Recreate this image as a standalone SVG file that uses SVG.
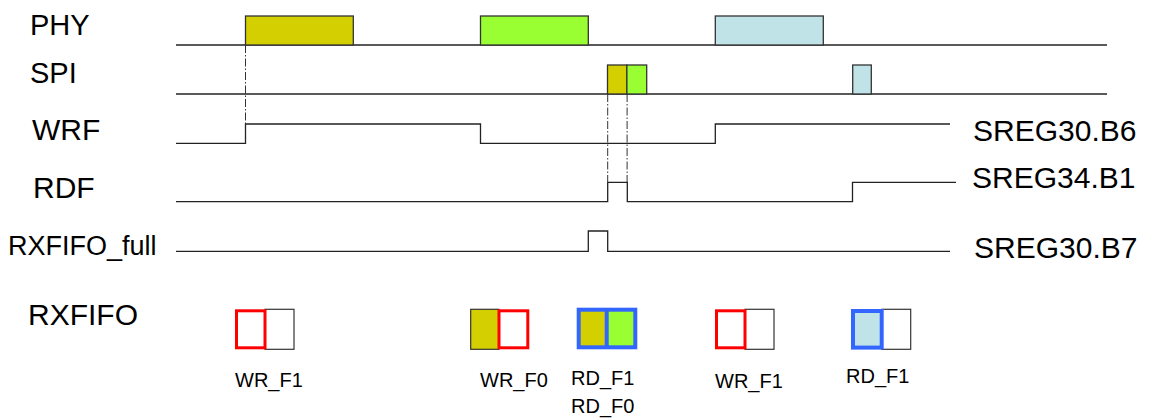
<svg xmlns="http://www.w3.org/2000/svg" width="1150" height="419" viewBox="0 0 1150 419">
<style>
.lbl{font-family:"Liberation Sans",Arial,sans-serif;fill:#000}
.big{font-size:30px}
.mid{font-size:29px}
.sm{font-size:20px}
.sig{fill:none;stroke:#222;stroke-width:1.3}
.box{stroke:#333;stroke-width:1.3}
.cell{fill:#fff;stroke:#333;stroke-width:1.2}
.red{fill:none;stroke:#ff0000;stroke-width:3}
.blue{fill:none;stroke:#3366ff;stroke-width:4}
.dd{fill:none;stroke:#333;stroke-width:1;stroke-dasharray:8 2 1.5 2}
.y{fill:#d4cf00}
.g{fill:#99ff33}
.b{fill:#c0e3e8}
</style>
<rect width="1150" height="419" fill="#fff"/>
<g id="PHY">
<text class="lbl mid" x="30" y="35">PHY</text>
<path class="sig" d="M176 45H1107"/>
<rect class="box y" x="245.5" y="16" width="107.8" height="29"/>
<rect class="box g" x="480.5" y="16" width="107.8" height="29"/>
<rect class="box b" x="715.3" y="16" width="108" height="29"/>
</g>
<g id="SPI">
<text class="lbl mid" x="30" y="83">SPI</text>
<path class="sig" d="M176 94H1107"/>
<rect class="box y" x="607.5" y="65" width="19.4" height="29"/>
<rect class="box g" x="626.9" y="65" width="19.8" height="29"/>
<rect class="box b" x="852.7" y="65" width="18.6" height="29"/>
</g>
<g id="WRF">
<text class="lbl big" x="32" y="140">WRF</text>
<path class="sig" d="M176 143.3H245.5V124H480.5V143.3H715.3V124H950"/>
<text class="lbl big" x="973" y="141">SREG30.B6</text>
</g>
<g id="RDF">
<text class="lbl big" x="33" y="198">RDF</text>
<path class="sig" d="M176 201.7H607.7V182.3H627.3V201.7H852.5V182.3H956"/>
<text class="lbl big" x="972" y="188">SREG34.B1</text>
</g>
<g id="RXFIFO_full">
<text class="lbl" style="font-size:27px" x="8" y="255">RXFIFO_full</text>
<path class="sig" d="M176 251.3H588.3V231H607.7V251.3H950"/>
<text class="lbl big" x="974" y="258">SREG30.B7</text>
</g>
<g id="connectors">
<path class="dd" d="M245.5 45V124"/>
<path class="dd" d="M607.7 94V182"/>
<path class="dd" d="M627.1 94V182"/>
</g>
<g id="RXFIFO">
<text class="lbl big" x="28" y="325">RXFIFO</text>
</g>
<g id="fifo1">
<rect class="cell" x="265" y="309.3" width="29" height="40"/>
<rect class="red" x="236.5" y="310.8" width="28.5" height="37"/>
<text class="lbl sm" x="235" y="387">WR_F1</text>
</g>
<g id="fifo2">
<rect class="cell y" x="470.7" y="309.3" width="28.3" height="40"/>
<rect class="red" x="499" y="310.8" width="28.8" height="37"/>
<text class="lbl sm" x="480" y="387">WR_F0</text>
</g>
<g id="fifo3">
<rect class="y" x="578.7" y="309.7" width="28" height="37.6"/>
<rect class="g" x="606.7" y="309.7" width="28.6" height="37.6"/>
<path d="M606.7 309.7V347.3" stroke="#3366ff" stroke-width="4"/>
<rect class="blue" x="578.7" y="309.7" width="56.6" height="37.6"/>
<text class="lbl sm" x="571" y="385">RD_F1</text>
<text class="lbl sm" x="571" y="413">RD_F0</text>
</g>
<g id="fifo4">
<rect class="cell" x="745" y="309.3" width="29" height="40"/>
<rect class="red" x="716.5" y="310.8" width="28.5" height="37"/>
<text class="lbl sm" x="715" y="388">WR_F1</text>
</g>
<g id="fifo5">
<rect class="cell" x="881.7" y="309.3" width="29" height="40"/>
<rect class="b" x="853" y="311" width="28.7" height="36.6"/>
<rect class="blue" x="853" y="311" width="28.7" height="36.6"/>
<text class="lbl sm" x="846" y="383">RD_F1</text>
</g>
</svg>
